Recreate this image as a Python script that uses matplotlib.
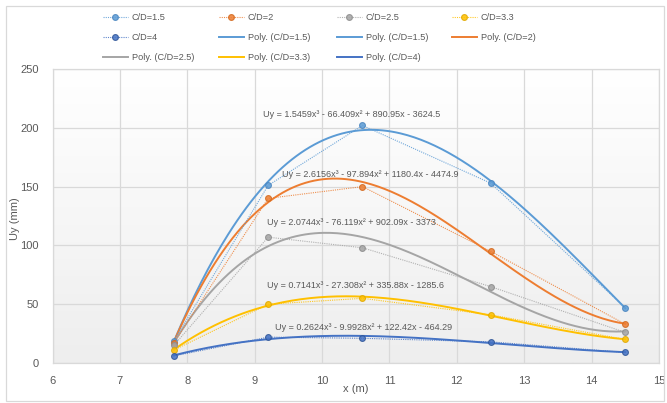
import numpy as np
import matplotlib
matplotlib.use("Agg")
import matplotlib.pyplot as plt
from matplotlib.patches import Rectangle
from matplotlib.colors import LinearSegmentedColormap

plt.rcParams['font.family'] = ['Liberation Sans', 'DejaVu Sans']

# ---- data ----
x_vals = [7.8, 9.2, 10.6, 12.5, 14.5]
series_names = ["C/D=1.5", "C/D=2", "C/D=2.5", "C/D=3.3", "C/D=4"]
uy_15 = [19, 151, 202, 153, 47]
uy_2 = [17, 140, 150, 95, 33]
uy_25 = [15, 107, 98, 65, 26]
uy_33 = [11, 50, 55, 41, 20]
uy_4 = [6, 22, 21, 18, 9]
series_values = [uy_15, uy_2, uy_25, uy_33, uy_4]
colors = ["#5B9BD5", "#ED7D31", "#A5A5A5", "#FFC000", "#4472C4"]
edge_colors = ["#4A85BF", "#D2691E", "#8C8C8C", "#E0A800", "#2F5597"]

equations = [
    "Uy = 1.5459x³ - 66.409x² + 890.95x - 3624.5",
    "Uy = 2.6156x³ - 97.894x² + 1180.4x - 4474.9",
    "Uy = 2.0744x³ - 76.119x² + 902.09x - 3373",
    "Uy = 0.7141x³ - 27.308x² + 335.88x - 1285.6",
    "Uy = 0.2624x³ - 9.9928x² + 122.42x - 464.29",
]
eq_pos = [(10.44, 211.5), (10.71, 160.5), (10.44, 119.5), (10.49, 65.5), (10.62, 30.5)]

x_ticks = [6, 7, 8, 9, 10, 11, 12, 13, 14, 15]
y_ticks = [0, 50, 100, 150, 200, 250]

W, H = 667, 403
fig = plt.figure(figsize=(W / 100, H / 100), dpi=100)
fig.patch.set_facecolor("white")

# outer chart border
fig.add_artist(Rectangle((6 / W, 2.5 / H), 658 / W, (400 - 5.5) / H,
                         transform=fig.transFigure, fill=False,
                         edgecolor="#D9D9D9", linewidth=0.9))

l, r, t, b = 52.5, 659, 69, 363
ax = fig.add_axes([l / W, 1 - b / H, (r - l) / W, (b - t) / H])

# gradient background of plot area (white at top, light grey at bottom)
cmap = LinearSegmentedColormap.from_list("bg", ["#FFFFFF", "#EEEEEE"])
grad = np.linspace(1, 0, 256).reshape(-1, 1)
ax.imshow(grad, extent=[6, 15, 0, 250], aspect="auto", cmap=cmap,
          zorder=0, origin="lower")
ax.set_xlim(6, 15)
ax.set_ylim(0, 250)

ax.set_xticks(x_ticks)
ax.set_yticks(y_ticks)
ax.grid(True, color="#D9D9D9", linewidth=0.9, zorder=1)
ax.set_axisbelow(True)
for s in ax.spines.values():
    s.set_color("#D9D9D9")
    s.set_linewidth(0.9)
ax.tick_params(length=0, labelsize=8, colors="#595959")
ax.tick_params(axis="y", pad=10)
ax.tick_params(axis="x", pad=9)
ax.set_xlabel("x (m)", fontsize=8, color="#595959")
ax.set_ylabel("Uy (mm)", fontsize=8, color="#595959")
ax.xaxis.set_label_coords(0.5, -(389 - b) / (b - t), transform=ax.transAxes)
ax.yaxis.set_label_coords(-(l - 15) / (r - l), 0.49, transform=ax.transAxes)
ax.xaxis.label.set_va("center")
ax.yaxis.label.set_va("center")

xs = np.array(x_vals)
xfit = np.linspace(min(x_vals), max(x_vals), 200)
data_handles = []
poly_handles = []
for name, vals, c, ec in zip(series_names, series_values, colors, edge_colors):
    h, = ax.plot(xs, vals, linestyle=(0, (1, 1)), linewidth=0.8, color=c,
                 alpha=0.85, marker="o", markersize=4.2,
                 markerfacecolor=c, markeredgecolor=ec, markeredgewidth=0.8,
                 zorder=4, label=name)
    data_handles.append(h)
    coefs = np.polyfit(xs, np.array(vals, dtype=float), 3)
    ph, = ax.plot(xfit, np.polyval(coefs, xfit), color=c, linewidth=1.4,
                  zorder=3, label="Poly. (" + name + ")")
    poly_handles.append(ph)

for txt, (ex, ey) in zip(equations, eq_pos):
    ax.text(ex, ey, txt, fontsize=6.5, color="#595959", ha="center",
            va="center", zorder=6)

# legend entries in Excel's row-major order
entries = data_handles + [poly_handles[0], poly_handles[0]] + poly_handles[1:]
labels = series_names + ["Poly. (C/D=1.5)", "Poly. (C/D=1.5)",
                         "Poly. (C/D=2)", "Poly. (C/D=2.5)",
                         "Poly. (C/D=3.3)", "Poly. (C/D=4)"]
col_x = [103, 219, 337, 452]
for ci in range(4):
    hs = entries[ci::4]
    ls = labels[ci::4]
    fig.legend(hs, ls, loc="upper left",
               bbox_to_anchor=(col_x[ci] / W, 1 - 13 / H),
               frameon=False, fontsize=6.6, labelcolor="#595959",
               handlelength=2.7, handletextpad=0.45, borderpad=0,
               borderaxespad=0, labelspacing=1.2, numpoints=1)

fig.savefig("out.png", dpi=100, facecolor="white")
